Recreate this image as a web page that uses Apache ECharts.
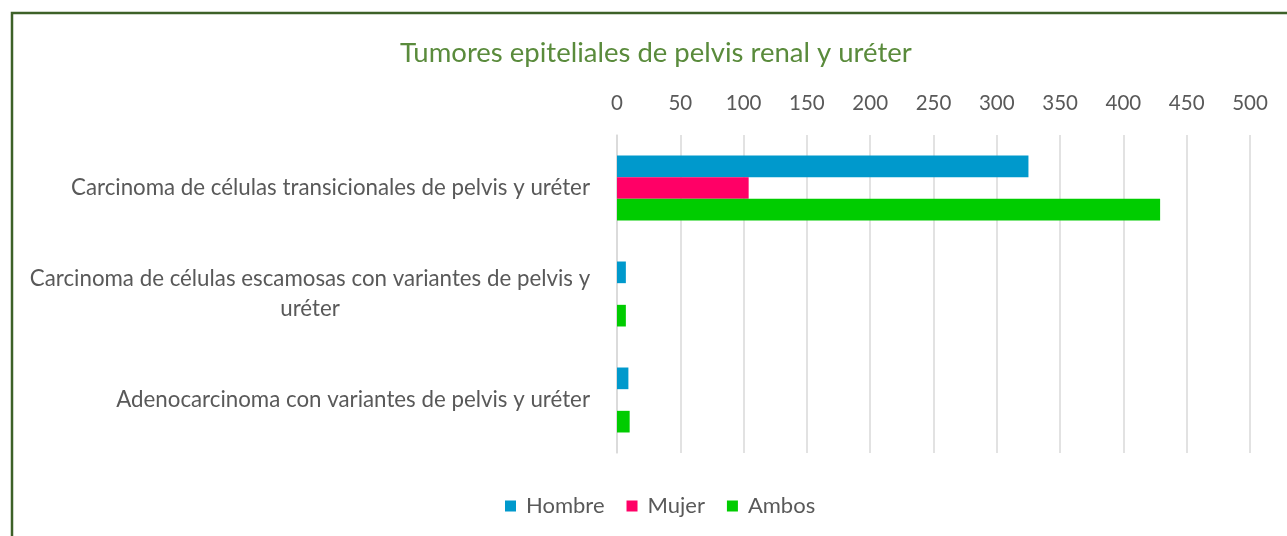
<!DOCTYPE html>
<html>
<head>
<meta charset="utf-8">
<script src="https://cdn.jsdelivr.net/npm/echarts@6/dist/echarts.min.js"></script>
<style>
  html, body { margin: 0; padding: 0; background: #ffffff; }
  #chart { width: 1287px; height: 536px; }
</style>
</head>
<body>
<div id="chart"></div>
<script>
// Tumour types (top to bottom)
const categories = [
  'Carcinoma de células transicionales de pelvis y uréter',
  'Carcinoma de células escamosas con variantes de pelvis y uréter',
  'Adenocarcinoma con variantes de pelvis y uréter'
];
// Case counts per sex
const hombre = [325, 7, 9];
const mujer = [104, 0, 0];
const ambos = [429, 7, 10];
// Value axis ticks
const xTicks = [0, 50, 100, 150, 200, 250, 300, 350, 400, 450, 500];

const FONT = 'Lato';
const GREY = '#595959';
const CAT_SIZE = 22.3;
const TICK_SIZE = 20.5;
const LEGEND_SIZE = 22;

const chart = echarts.init(document.getElementById('chart'), null, { renderer: 'canvas' });

const series = [
  { name: 'Hombre', color: '#0099cc', data: hombre },
  { name: 'Mujer', color: '#ff0066', data: mujer },
  { name: 'Ambos', color: '#00cc00', data: ambos }
].map(s => ({
  name: s.name,
  type: 'bar',
  data: s.data,
  barGap: '0%',
  barCategoryGap: '38.7%',
  itemStyle: { color: s.color },
  emphasis: { disabled: true }
}));

chart.setOption({
  animation: false,
  textStyle: { fontFamily: FONT },
  title: {
    text: 'Tumores epiteliales de pelvis renal y uréter',
    left: 400,
    top: 39,
    padding: 0,
    textStyle: { fontFamily: FONT, fontSize: 27.5, fontWeight: 'normal', color: '#5a8b3c' }
  },
  legend: {
    bottom: 19,
    left: 505,
    padding: 0,
    itemWidth: 11,
    itemHeight: 11,
    itemGap: 22,
    icon: 'rect',
    textStyle: { fontFamily: FONT, fontSize: LEGEND_SIZE, color: GREY, padding: [0, 0, 0, 5] },
    data: ['Hombre', 'Mujer', 'Ambos']
  },
  grid: { left: 617, right: 37, top: 135, bottom: 83, containLabel: false },
  xAxis: {
    type: 'value',
    position: 'top',
    min: xTicks[0],
    max: xTicks[xTicks.length - 1],
    interval: xTicks[1] - xTicks[0],
    axisLine: { show: false },
    axisTick: { show: false },
    axisLabel: { color: GREY, fontFamily: FONT, fontSize: TICK_SIZE, margin: 21 },
    splitLine: { show: true, lineStyle: { color: '#d9d9d9', width: 1.5 } }
  },
  yAxis: {
    type: 'category',
    inverse: true,
    data: categories,
    axisLine: { show: true, lineStyle: { color: '#d9d9d9', width: 1.5 } },
    axisTick: { show: false },
    axisLabel: {
      color: GREY,
      fontFamily: FONT,
      fontSize: CAT_SIZE,
      margin: 27,
      lineHeight: 30,
      formatter: function (value, idx) {
        if (idx === 1) {
          return '{w|Carcinoma de células escamosas con variantes de pelvis y}\n{w|uréter}';
        }
        return value;
      },
      rich: {
        w: { width: 560, align: 'center', color: GREY, fontFamily: FONT, fontSize: CAT_SIZE, lineHeight: 30 }
      }
    }
  },
  series: series,
  graphic: [{
    type: 'rect',
    silent: true,
    z: 100,
    shape: { x: 12, y: 13, width: 1400, height: 700 },
    style: { fill: 'none', stroke: '#3d6128', lineWidth: 2.5 }
  }]
});
</script>
</body>
</html>
